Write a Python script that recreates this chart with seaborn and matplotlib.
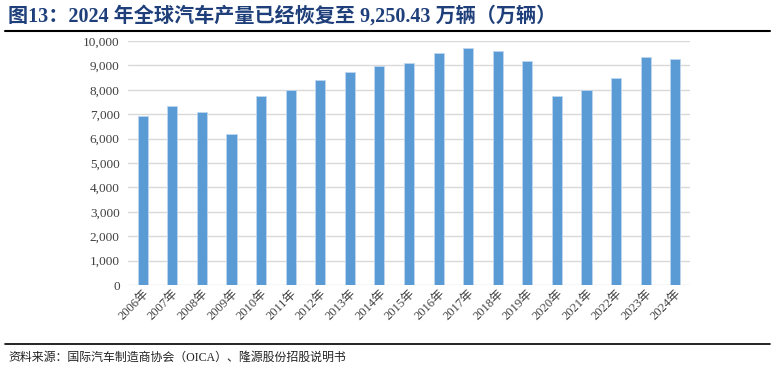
import pandas as pd
import matplotlib
matplotlib.use("Agg")
import matplotlib.pyplot as plt
import seaborn as sns
from matplotlib.ticker import FuncFormatter

# data (万辆)
years = ["2006年", "2007年", "2008年", "2009年", "2010年", "2011年", "2012年", "2013年",
         "2014年", "2015年", "2016年", "2017年", "2018年", "2019年", "2020年", "2021年",
         "2022年", "2023年", "2024年"]
production = [6920, 7330, 7070, 6180, 7760, 7990, 8410, 8750, 8970, 9080, 9490, 9730,
              9570, 9180, 7760, 8010, 8500, 9350, 9250.43]

title_text = "图13：2024 年全球汽车产量已经恢复至 9,250.43 万辆（万辆）"
source_text = "资料来源：国际汽车制造商协会（OICA）、隆源股份招股说明书"

sns.set_theme(style="white")
plt.rcParams["font.family"] = ["Liberation Serif", "Noto Sans CJK SC", "DejaVu Sans"]

df = pd.DataFrame({"year": years, "value": production})

fig = plt.figure(figsize=(7.74, 3.74), dpi=100)
ax = fig.add_axes([128 / 774, 1 - 285 / 374, 562 / 774, 244 / 374])

sns.barplot(data=df, x="year", y="value", color="#5B9BD5", width=0.34, ax=ax,
            saturation=1, edgecolor="#BDD7EE", linewidth=0.6)

ax.set_ylim(0, 10000)
ax.set_yticks(range(0, 10001, 1000))
ax.yaxis.set_major_formatter(FuncFormatter(lambda v, p: f"{int(v):,}"))
ax.grid(axis="y", color="#D9D9D9", linewidth=1)
ax.set_axisbelow(True)
for s in ax.spines.values():
    s.set_visible(False)
ax.set_xlabel("")
ax.set_ylabel("")
ax.tick_params(axis="y", length=0, labelsize=9.5, labelcolor="#404040", pad=6)
ax.tick_params(axis="x", length=0, labelsize=9, labelcolor="#404040", pad=2)
for lab in ax.get_xticklabels():
    lab.set_rotation(45)
    lab.set_ha("right")
    lab.set_rotation_mode("anchor")
    lab.set_family(["Liberation Serif", "Noto Sans CJK SC"])

# title, rules and source
fig.text(8 / 774, 1 - 16 / 374, title_text, fontsize=14.5, fontweight="bold",
         color="#1F3F7A", va="center", ha="left")
fig.add_artist(plt.Line2D([5 / 774, 770 / 774], [1 - 31 / 374, 1 - 31 / 374],
                          color="black", linewidth=1.5))
fig.add_artist(plt.Line2D([5 / 774, 770 / 774], [1 - 344 / 374, 1 - 344 / 374],
                          color="black", linewidth=1.2))
fig.text(8 / 774, 1 - 358 / 374, source_text, fontsize=8.6, color="#222222",
         va="center", ha="left")

plt.savefig("out.png", dpi=100)
